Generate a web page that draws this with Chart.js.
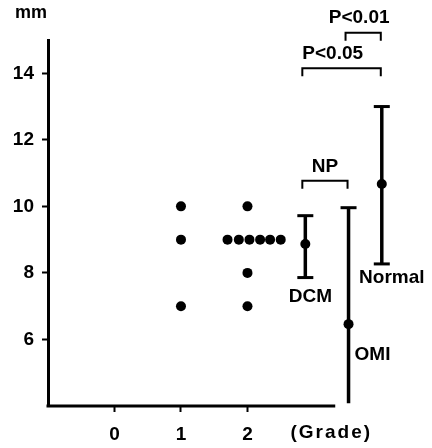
<!DOCTYPE html>
<html><head><meta charset="utf-8">
<script src="https://cdn.jsdelivr.net/npm/chart.js@4/dist/chart.umd.min.js"></script>
<style>html,body{margin:0;padding:0;background:#fff}#wrap{width:432px;height:448px}</style>
</head><body><div id="wrap"><canvas id="c" width="432" height="448"></canvas></div>
<script>
// ---- data ----
const yTickValues = [6, 8, 10, 12, 14];
const yTickLabels = ['6', '8', '10', '12', '14'];
const xTickValues = [0, 1, 2];
const xTickLabels = ['0', '1', '2'];
const grade1Values = [10, 9, 7];
const grade2Values = [10, 8, 7];
const grade2RowX = [1.70, 1.87, 2.03, 2.19, 2.34, 2.50];
const grade2RowValue = 9;
const groupNames = ['DCM', 'OMI', 'Normal'];
const groupX = [2.87, 3.52, 4.02];
const groupMean = [8.87, 6.46, 10.67];
const groupHigh = [9.72, 9.96, 13.0];
const groupLow = [7.86, 4.08, 8.27];
const groupLowCap = [true, false, true];
const bracketLabels = ['NP', 'P<0.05', 'P<0.01'];
const bracketFrom = [0, 0, 1];
const bracketTo = [1, 2, 2];
const bracketLevel = [10.77, 14.15, 15.22];
const yUnit = 'mm';
const xUnit = '(Grade)';

const FONT = 'Liberation Sans, Arial, sans-serif';
const font = (s) => 'bold ' + s + 'px ' + FONT;
const DOT = 5;
const X_AXIS_END = 3.32;

const points = [];
grade1Values.forEach(v => points.push({x: 1, y: v}));
grade2Values.forEach(v => points.push({x: 2, y: v}));
grade2RowX.forEach(x => points.push({x: x, y: grade2RowValue}));
const means = groupX.map((x, i) => ({x: x, y: groupMean[i]}));

const overlay = {
  id: 'overlay',
  afterDatasetsDraw(chart) {
    const ctx = chart.ctx, xs = chart.scales.x, ys = chart.scales.y, ca = chart.chartArea;
    ctx.save();
    ctx.strokeStyle = '#000'; ctx.fillStyle = '#000';
    ctx.lineCap = 'butt';
    // x axis line (ends before the group bars)
    ctx.lineWidth = 3;
    ctx.beginPath(); ctx.moveTo(ca.left - 1.5, ca.bottom); ctx.lineTo(xs.getPixelForValue(X_AXIS_END), ca.bottom); ctx.stroke();
    // error bars
    groupX.forEach((g, i) => {
      const x = xs.getPixelForValue(g);
      const yh = ys.getPixelForValue(groupHigh[i]);
      const yl = ys.getPixelForValue(groupLow[i]);
      ctx.lineWidth = 3.5;
      ctx.beginPath(); ctx.moveTo(x, yh); ctx.lineTo(x, yl); ctx.stroke();
      ctx.lineWidth = 3;
      ctx.beginPath(); ctx.moveTo(x - 8, yh); ctx.lineTo(x + 8, yh); ctx.stroke();
      if (groupLowCap[i]) { ctx.beginPath(); ctx.moveTo(x - 8, yl); ctx.lineTo(x + 8, yl); ctx.stroke(); }
    });
    // group labels
    ctx.font = font(19); ctx.textBaseline = 'middle';
    groupNames.forEach((n, i) => {
      const x = xs.getPixelForValue(groupX[i]);
      const yl = ys.getPixelForValue(groupLow[i]);
      const ym = ys.getPixelForValue(groupMean[i]);
      if (i === 0) { ctx.textAlign = 'center'; ctx.fillText(n, x + 5, yl + 19); }
      else if (i === 1) { ctx.textAlign = 'left'; ctx.fillText(n, x + 6, ym + 31); }
      else { ctx.textAlign = 'center'; ctx.fillText(n, x + 10, yl + 14); }
    });
    // brackets
    ctx.lineWidth = 2;
    bracketLabels.forEach((lab, i) => {
      const x1 = xs.getPixelForValue(groupX[bracketFrom[i]]) - 3;
      const x2 = xs.getPixelForValue(groupX[bracketTo[i]]) - 1;
      const y = ys.getPixelForValue(bracketLevel[i]);
      ctx.beginPath(); ctx.moveTo(x1, y + 8); ctx.lineTo(x1, y); ctx.lineTo(x2, y); ctx.lineTo(x2, y + 8); ctx.stroke();
      ctx.font = font(19); ctx.textBaseline = 'middle';
      if (i === 1) { ctx.textAlign = 'left'; ctx.fillText(lab, x1, y - 15); }
      else if (i === 2) { ctx.textAlign = 'center'; ctx.fillText(lab, (x1 + x2) / 2 - 4, y - 14.5); }
      else { ctx.textAlign = 'center'; ctx.fillText(lab, (x1 + x2) / 2, y - 14); }
    });
    // axis units
    ctx.font = font(18); ctx.textAlign = 'center'; ctx.textBaseline = 'middle';
    ctx.fillText(yUnit, ca.left - 17, ca.top - 27);
    ctx.font = font(19);
    if ('letterSpacing' in ctx) ctx.letterSpacing = '2px';
    ctx.fillText(xUnit, xs.getPixelForValue(3.26), ca.bottom + 27);
    ctx.restore();
  }
};

new Chart(document.getElementById('c'), {
  type: 'scatter',
  data: {
    datasets: [
      {data: points, pointRadius: DOT, pointHoverRadius: DOT, backgroundColor: '#000', borderWidth: 0},
      {data: means, pointRadius: DOT, pointHoverRadius: DOT, backgroundColor: '#000', borderWidth: 0}
    ]
  },
  options: {
    responsive: false,
    animation: false,
    devicePixelRatio: 1,
    events: [],
    layout: {padding: {top: 40, right: 0, left: 0, bottom: 0}},
    plugins: {legend: {display: false}, tooltip: {enabled: false}},
    scales: {
      x: {
        type: 'linear', position: 'bottom', min: -1, max: 4.70,
        afterBuildTicks: s => { s.ticks = xTickValues.map(v => ({value: v})); },
        afterFit: s => { s.height = 42; },
        ticks: {
          autoSkip: false, maxRotation: 0, color: '#000', padding: 11,
          font: {family: FONT, weight: 'bold', size: 19},
          callback: v => xTickLabels[xTickValues.indexOf(v)]
        },
        grid: {drawOnChartArea: false, drawTicks: true, tickLength: 6, tickWidth: 2, tickColor: '#000'},
        border: {display: false}
      },
      y: {
        type: 'linear', min: 4, max: 15,
        afterBuildTicks: s => { s.ticks = yTickValues.map(v => ({value: v})); },
        afterFit: s => { s.width = 48; },
        ticks: {
          autoSkip: false, color: '#000', padding: 8,
          font: {family: FONT, weight: 'bold', size: 19},
          callback: v => yTickLabels[yTickValues.indexOf(v)]
        },
        grid: {drawOnChartArea: false, drawTicks: true, tickLength: 6, tickWidth: 2, tickColor: '#000'},
        border: {display: true, width: 3, color: '#000'}
      }
    }
  },
  plugins: [overlay]
});
</script>
</body></html>
